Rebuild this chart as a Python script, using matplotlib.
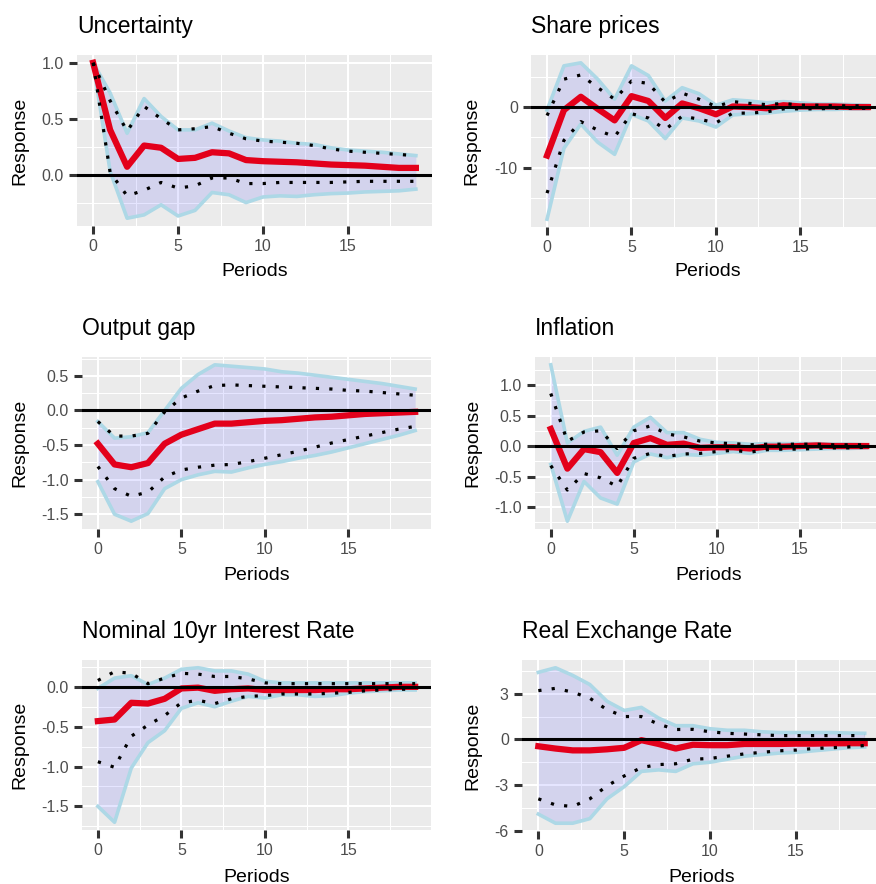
import matplotlib
matplotlib.use("Agg")
import matplotlib.pyplot as plt
from matplotlib.ticker import MultipleLocator, FormatStrFormatter

plt.rcParams['font.family'] = ['Liberation Sans', 'DejaVu Sans']
plt.rcParams['axes.unicode_minus'] = False

periods = list(range(20))

# Uncertainty
unc_irf = [1.00, 0.40, 0.07, 0.26, 0.24, 0.14, 0.15, 0.20, 0.19, 0.13, 0.12, 0.115, 0.11, 0.10, 0.09, 0.085, 0.08, 0.07, 0.06, 0.06]
unc_upper = [1.00, 0.73, 0.37, 0.68, 0.52, 0.40, 0.40, 0.46, 0.39, 0.33, 0.31, 0.30, 0.28, 0.27, 0.24, 0.22, 0.21, 0.20, 0.185, 0.17]
unc_lower = [1.00, 0.03, -0.39, -0.36, -0.27, -0.37, -0.32, -0.16, -0.18, -0.25, -0.20, -0.19, -0.195, -0.18, -0.17, -0.165, -0.155, -0.15, -0.145, -0.13]
unc_upper68 = [1.00, 0.66, 0.39, 0.61, 0.50, 0.40, 0.41, 0.43, 0.37, 0.32, 0.30, 0.29, 0.28, 0.26, 0.23, 0.21, 0.20, 0.19, 0.18, 0.17]
unc_lower68 = [1.00, 0.02, -0.19, -0.14, -0.07, -0.12, -0.10, -0.03, -0.03, -0.08, -0.08, -0.07, -0.07, -0.07, -0.07, -0.065, -0.06, -0.06, -0.06, -0.06]

# Share prices
sp_irf = [-8.0, -0.5, 1.7, -0.3, -2.2, 1.8, 1.0, -1.8, 0.6, -0.2, -1.2, 0.1, 0.0, -0.2, 0.3, 0.1, 0.1, 0.1, 0.0, 0.0]
sp_upper = [-0.5, 6.8, 7.3, 4.6, 1.3, 6.8, 5.2, 1.0, 3.2, 2.2, 0.3, 1.2, 1.0, 0.7, 0.9, 0.7, 0.5, 0.5, 0.4, 0.3]
sp_lower = [-18.5, -6.8, -2.8, -5.8, -7.8, -1.2, -2.3, -5.2, -1.8, -2.3, -3.3, -1.3, -1.1, -1.0, -0.7, -0.5, -0.4, -0.4, -0.3, -0.3]
sp_upper68 = [-1.4, 4.6, 5.3, 3.2, 1.3, 4.3, 3.9, 0.8, 2.3, 1.3, 0.1, 0.9, 0.6, 0.4, 0.6, 0.3, 0.3, 0.2, 0.2, 0.2]
sp_lower68 = [-14.2, -5.5, -2.4, -3.8, -4.9, -1.1, -1.8, -3.7, -1.5, -2.0, -2.6, -1.0, -1.0, -0.8, -0.3, -0.3, -0.3, -0.2, -0.2, -0.2]

# Output gap
og_irf = [-0.48, -0.78, -0.82, -0.76, -0.48, -0.35, -0.27, -0.19, -0.19, -0.17, -0.15, -0.14, -0.12, -0.10, -0.09, -0.07, -0.05, -0.04, -0.03, -0.02]
og_upper = [-0.16, -0.40, -0.38, -0.32, 0.00, 0.32, 0.52, 0.66, 0.64, 0.62, 0.60, 0.56, 0.54, 0.51, 0.48, 0.45, 0.42, 0.39, 0.35, 0.31]
og_lower = [-1.03, -1.50, -1.60, -1.49, -1.13, -1.00, -0.93, -0.88, -0.89, -0.83, -0.78, -0.74, -0.69, -0.65, -0.60, -0.54, -0.48, -0.42, -0.36, -0.29]
og_upper68 = [-0.16, -0.37, -0.37, -0.33, -0.02, 0.18, 0.28, 0.36, 0.37, 0.36, 0.35, 0.34, 0.33, 0.32, 0.31, 0.29, 0.28, 0.26, 0.24, 0.22]
og_lower68 = [-0.81, -1.13, -1.24, -1.18, -0.96, -0.86, -0.82, -0.79, -0.78, -0.74, -0.69, -0.64, -0.59, -0.53, -0.47, -0.42, -0.37, -0.32, -0.27, -0.23]

# Inflation
inf_irf = [0.28, -0.37, -0.05, -0.10, -0.44, 0.05, 0.13, 0.02, 0.04, -0.03, -0.02, -0.02, -0.04, -0.01, -0.01, 0.0, 0.01, 0.0, 0.0, 0.0]
inf_upper = [1.33, 0.05, 0.24, 0.31, -0.15, 0.31, 0.47, 0.22, 0.22, 0.11, 0.06, 0.05, 0.03, 0.04, 0.04, 0.04, 0.04, 0.03, 0.03, 0.02]
inf_lower = [-0.30, -1.23, -0.58, -0.85, -0.95, -0.26, -0.13, -0.19, -0.14, -0.15, -0.12, -0.09, -0.12, -0.07, -0.07, -0.06, -0.05, -0.04, -0.04, -0.03]
inf_upper68 = [0.86, 0.08, 0.23, 0.25, -0.04, 0.25, 0.33, 0.20, 0.15, 0.08, 0.05, 0.04, 0.02, 0.03, 0.03, 0.03, 0.03, 0.02, 0.02, 0.02]
inf_lower68 = [-0.32, -0.72, -0.45, -0.52, -0.66, -0.20, -0.12, -0.17, -0.13, -0.12, -0.09, -0.07, -0.10, -0.06, -0.05, -0.05, -0.04, -0.03, -0.03, -0.02]

# Nominal 10yr interest rate
ir_irf = [-0.43, -0.41, -0.20, -0.21, -0.15, -0.02, -0.01, -0.05, -0.03, -0.02, -0.04, -0.04, -0.04, -0.04, -0.03, -0.03, -0.02, -0.01, 0.0, 0.0]
ir_upper = [-0.02, 0.11, 0.14, 0.03, 0.11, 0.22, 0.24, 0.20, 0.20, 0.16, 0.07, 0.05, 0.05, 0.05, 0.05, 0.05, 0.05, 0.05, 0.05, 0.05]
ir_lower = [-1.50, -1.70, -1.02, -0.70, -0.55, -0.27, -0.20, -0.25, -0.18, -0.12, -0.14, -0.10, -0.10, -0.12, -0.11, -0.08, -0.06, -0.05, -0.04, -0.04]
ir_upper68 = [0.08, 0.19, 0.17, 0.04, 0.11, 0.17, 0.16, 0.13, 0.13, 0.10, 0.05, 0.04, 0.04, 0.04, 0.04, 0.04, 0.04, 0.04, 0.04, 0.04]
ir_lower68 = [-0.94, -1.01, -0.62, -0.48, -0.36, -0.20, -0.17, -0.21, -0.15, -0.12, -0.11, -0.09, -0.09, -0.09, -0.08, -0.07, -0.05, -0.04, -0.03, -0.03]

# Real exchange rate
rer_irf = [-0.45, -0.60, -0.72, -0.72, -0.65, -0.55, -0.05, -0.30, -0.60, -0.35, -0.38, -0.38, -0.30, -0.30, -0.30, -0.28, -0.28, -0.26, -0.25, -0.25]
rer_upper = [4.4, 4.7, 4.2, 3.6, 2.5, 1.9, 2.1, 1.4, 0.9, 0.9, 0.7, 0.6, 0.6, 0.5, 0.45, 0.45, 0.45, 0.45, 0.42, 0.4]
rer_lower = [-4.9, -5.5, -5.5, -5.2, -3.9, -3.1, -2.1, -2.0, -2.1, -1.6, -1.5, -1.3, -1.1, -1.0, -0.9, -0.85, -0.75, -0.65, -0.55, -0.5]
rer_upper68 = [3.2, 3.35, 3.1, 2.7, 1.95, 1.5, 1.5, 1.0, 0.65, 0.66, 0.5, 0.4, 0.35, 0.3, 0.25, 0.25, 0.25, 0.25, 0.25, 0.25]
rer_lower68 = [-3.9, -4.3, -4.4, -3.9, -3.05, -2.4, -1.85, -1.65, -1.6, -1.3, -1.25, -1.1, -0.95, -0.85, -0.75, -0.7, -0.6, -0.55, -0.5, -0.4]

titles = ["Uncertainty", "Share prices", "Output gap", "Inflation",
          "Nominal 10yr Interest Rate", "Real Exchange Rate"]
series = [
    (unc_irf, unc_lower, unc_upper, unc_lower68, unc_upper68),
    (sp_irf, sp_lower, sp_upper, sp_lower68, sp_upper68),
    (og_irf, og_lower, og_upper, og_lower68, og_upper68),
    (inf_irf, inf_lower, inf_upper, inf_lower68, inf_upper68),
    (ir_irf, ir_lower, ir_upper, ir_lower68, ir_upper68),
    (rer_irf, rer_lower, rer_upper, rer_lower68, rer_upper68),
]
ytick_step = [0.5, 10, 0.5, 0.5, 0.5, 3]
ytick_fmt = ['%.1f', '%d', '%.1f', '%.1f', '%.1f', '%d']

# panel boxes in pixels: left, right, top, bottom
W, H = 876, 884
boxes = [(77, 432, 55, 226), (531, 884, 55, 227),
         (82, 431, 357, 529), (535, 882, 357, 529),
         (82, 431, 660, 830), (522, 881, 660, 831)]
ylab_x = [20, 472, 20, 473, 20, 473]
xlab_y = [272, 272, 575, 575, 877, 877]

fig = plt.figure(figsize=(W / 100, H / 100), dpi=100)

for i in range(6):
    l, r, t, b = boxes[i]
    ax = fig.add_axes([l / W, 1 - b / H, (r - l) / W, (b - t) / H])
    irf, lo, hi, lo68, hi68 = series[i]

    ax.set_facecolor('#EBEBEB')
    for s in ax.spines.values():
        s.set_visible(False)

    ax.fill_between(periods, lo, hi, color='blue', alpha=0.1, lw=0, zorder=2)
    ax.plot(periods, hi, color='#ADD8E6', lw=2.6, zorder=3)
    ax.plot(periods, lo, color='#ADD8E6', lw=2.6, zorder=3)
    ax.plot(periods, irf, color='#E3001B', lw=4.5, zorder=4)
    ax.plot(periods, hi68, color='black', lw=2.3, ls=(0, (1, 3.2)), zorder=5)
    ax.plot(periods, lo68, color='black', lw=2.3, ls=(0, (1, 3.2)), zorder=5)
    ax.axhline(0, color='black', lw=2.2, zorder=6)

    # ggplot style 5% expansion
    vals = irf + lo + hi + lo68 + hi68
    ymin, ymax = min(vals), max(vals)
    pad = 0.05 * (ymax - ymin)
    ax.set_ylim(ymin - pad, ymax + pad)
    ax.set_xlim(-0.95, 19.95)

    ax.xaxis.set_major_locator(MultipleLocator(5))
    ax.xaxis.set_minor_locator(MultipleLocator(2.5))
    ax.yaxis.set_major_locator(MultipleLocator(ytick_step[i]))
    ax.yaxis.set_minor_locator(MultipleLocator(ytick_step[i] / 2))
    ax.yaxis.set_major_formatter(FormatStrFormatter(ytick_fmt[i]))
    ax.grid(which='major', color='white', lw=1.5, zorder=0)
    ax.grid(which='minor', color='white', lw=0.75, zorder=0)
    ax.set_axisbelow(True)
    ax.tick_params(which='major', length=6, width=2.2, color='#333333',
                   labelsize=11.5, labelcolor='#4D4D4D', pad=3.5)
    ax.tick_params(which='minor', length=0)

    ax.set_title(titles[i], loc='left', fontsize=16.5, pad=16)
    ax.set_xlabel('Periods', fontsize=14, va='center')
    ax.set_ylabel('Response', fontsize=14, va='center')
    ax.xaxis.set_label_coords(0.5, (b - xlab_y[i]) / (b - t))
    ax.yaxis.set_label_coords((ylab_x[i] - l) / (r - l), 0.5)

fig.savefig('out.png', dpi=100)
